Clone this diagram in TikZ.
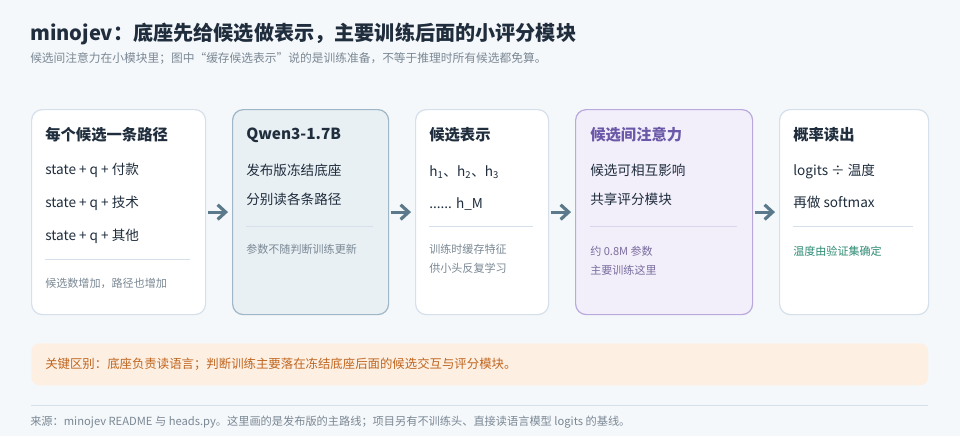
\documentclass[tikz,border=0pt]{standalone}
\usepackage{fontspec}
\setmainfont{Noto Sans CJK SC}
\usetikzlibrary{arrows.meta}
\definecolor{bgc}{HTML}{F5F8FB}
\definecolor{ink}{HTML}{1F2D3D}
\definecolor{grey}{HTML}{7A8894}
\definecolor{edge}{HTML}{D5E0EA}
\definecolor{basefill}{HTML}{E9F0F4}
\definecolor{baseedge}{HTML}{9FB6C6}
\definecolor{attfill}{HTML}{F2EFFB}
\definecolor{attedge}{HTML}{B9A9DC}
\definecolor{attink}{HTML}{6B58A8}
\definecolor{attgrey}{HTML}{7A6D9E}
\definecolor{teal}{HTML}{2E8B73}
\definecolor{notefill}{HTML}{FDF0E3}
\definecolor{noteink}{HTML}{C0651F}
\definecolor{arr}{HTML}{5A7A8C}
\tikzset{
  card/.style={draw=edge,fill=white,line width=0.9pt,rounded corners=8pt,anchor=north west,minimum height=153.75pt,inner sep=0pt},
  txt/.style={anchor=west,inner sep=0pt},
  head/.style={txt,font=\fontsize{11.5}{13}\selectfont\bfseries,text=ink},
  line/.style={txt,font=\fontsize{10.2}{12}\selectfont,text=ink},
  small/.style={txt,font=\fontsize{8.3}{10}\selectfont,text=grey},
  flow/.style={-{Straight Barb[length=6pt,width=11pt]},line width=2.4pt,draw=arr,shorten <=1pt,shorten >=3pt}
}
\begin{document}
\begin{tikzpicture}[x=0.75pt,y=-0.75pt]
\fill[bgc] (0,0) rectangle (960,436);
\useasboundingbox (0,0) rectangle (960,436);
% title
\node[txt,font=\fontsize{15.1}{18}\selectfont\bfseries,text=ink] (title) at (30,34) {minojev：底座先给候选做表示，主要训练后面的小评分模块};
\node[txt,font=\fontsize{8.8}{10}\selectfont,text=grey] (sub) at (30,58) {候选间注意力在小模块里；图中“缓存候选表示”说的是训练准备，不等于推理时所有候选都免算。};
% cards
\node[card,minimum width=130.5pt] (path) at (31,109) {};
\node[card,minimum width=117pt,fill=basefill,draw=baseedge] (base) at (232,109) {};
\node[card,minimum width=99.75pt] (rep) at (415,109) {};
\node[card,minimum width=132.75pt,fill=attfill,draw=attedge] (att) at (575,109) {};
\node[card,minimum width=111.75pt] (prob) at (779,109) {};
% card 1
\node[head] (pathhead) at (45,135) {每个候选一条路径};
\node[line] (pathA) at (45,170) {state + q + 付款};
\node[line] (pathB) at (45,203) {state + q + 技术};
\node[line] (pathC) at (45,236) {state + q + 其他};
\draw[edge,line width=0.6pt] (45,259) -- (190,259);
\node[small] (pathnote) at (45,283) {候选数增加，路径也增加};
% card 2
\node[head] (basehead) at (246,135) {Qwen3-1.7B};
\node[line] (baseA) at (246,170) {发布版冻结底座};
\node[line] (baseB) at (246,199) {分别读各条路径};
\draw[edge,line width=0.6pt] (246,226) -- (373,226);
\node[small] (basenote) at (246,249) {参数不随判断训练更新};
% card 3
\node[head] (rephead) at (429,135) {候选表示};
\node[line] (repA) at (429,172) {h\textsubscript{1}、h\textsubscript{2}、h\textsubscript{3}};
\node[line] (repB) at (429,204) {...... h\_M};
\draw[edge,line width=0.6pt] (429,226) -- (533,226);
\node[small] (repnote) at (429,249) {训练时缓存特征};
\node[small] (repnoteB) at (429,268) {供小头反复学习};
% card 4
\node[head,text=attink] (atthead) at (590,135) {候选间注意力};
\node[line] (attA) at (590,170) {候选可相互影响};
\node[line] (attB) at (590,199) {共享评分模块};
\draw[attedge!50,line width=0.6pt] (590,226) -- (737,226);
\node[small,text=attgrey] (attnote) at (590,251) {约 0.8M 参数};
\node[small,text=attgrey] (attnoteB) at (590,270) {主要训练这里};
% card 5
\node[head] (probhead) at (793,135) {概率读出};
\node[line] (probA) at (793,171) {logits ÷ 温度};
\node[line] (probB) at (793,202) {再做 softmax};
\draw[edge,line width=0.6pt] (793,226) -- (913,226);
\node[small,text=teal] (probnote) at (793,251) {温度由验证集确定};
% connectors
\draw[flow] (path) -- (base);
\draw[flow] (base) -- (rep);
\draw[flow] (rep) -- (att);
\draw[flow] (att) -- (prob);
% note and footer
\node[anchor=north west,fill=notefill,rounded corners=6pt,minimum width=672.75pt,minimum height=31.5pt,inner sep=0pt] (note) at (31,343) {};
\node[txt,font=\fontsize{9.3}{11}\selectfont,text=noteink] (notetext) at (45,364) {关键区别：底座负责读语言；判断训练主要落在冻结底座后面的候选交互与评分模块。};
\draw[edge,line width=0.6pt] (31,405) -- (928,405);
\node[txt,font=\fontsize{8.4}{10}\selectfont,text=grey] (foot) at (30,422) {来源：minojev README 与 heads.py。这里画的是发布版的主路线；项目另有不训练头、直接读语言模型 logits 的基线。};
\end{tikzpicture}
\end{document}
